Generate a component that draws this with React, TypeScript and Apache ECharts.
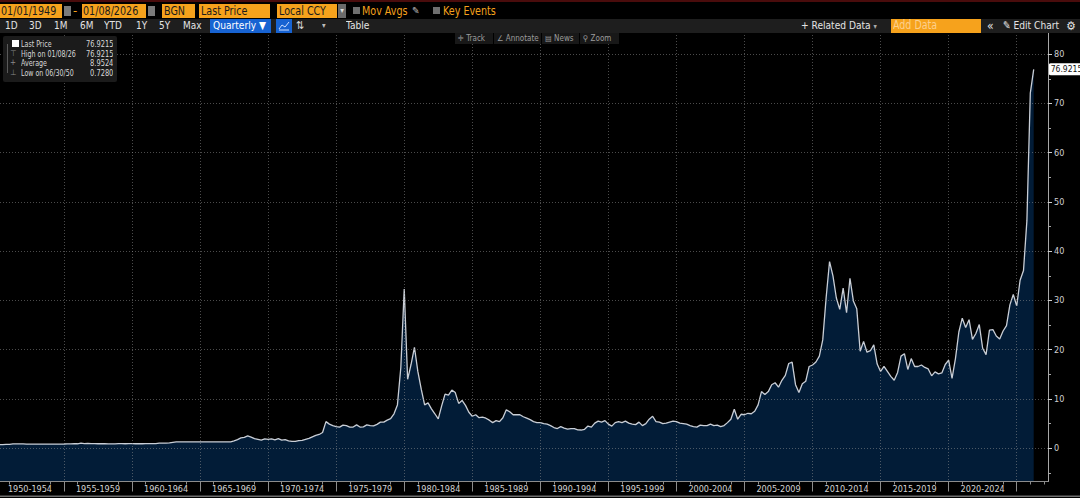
import React, { useEffect, useRef } from "react";
import * as echarts from "echarts";

// Quarterly closes, Q1 1950 onward (one array per decade)
const q1950s = [
  0.73, 0.728, 0.8, 0.8,
  0.88, 0.88, 0.88, 0.88,
  0.85, 0.83, 0.83, 0.84,
  0.85, 0.85, 0.85, 0.85,
  0.85, 0.85, 0.85, 0.86,
  0.88, 0.9, 0.92, 0.91,
  1.05, 0.93, 0.96, 0.92,
  0.92, 0.91, 0.91, 0.91,
  0.9, 0.89, 0.9, 0.92,
  0.92, 0.91, 0.92, 0.92,
];
const q1960s = [
  0.91, 0.91, 0.91, 0.92,
  0.92, 0.92, 0.93, 1.04,
  1.02, 1.03, 1.08, 1.2,
  1.28, 1.28, 1.29, 1.29,
  1.29, 1.29, 1.29, 1.29,
  1.29, 1.29, 1.29, 1.29,
  1.29, 1.29, 1.29, 1.29,
  1.29, 1.5, 1.75, 2.1,
  2.2, 2.5, 2.25, 1.95,
  1.8, 1.65, 1.9, 1.8,
];
const q1970s = [
  1.9, 1.7, 1.95, 1.65,
  1.75, 1.5, 1.4, 1.38,
  1.55, 1.6, 1.8, 2.0,
  2.3, 2.6, 2.8, 3.2,
  5.4, 4.9, 4.6, 4.4,
  4.3, 4.7, 4.6, 4.3,
  4.3, 4.75, 4.3, 4.35,
  4.75, 4.6, 4.55, 4.85,
  5.3, 5.3, 5.7, 6.0,
  7.0, 8.8, 16.4, 32.3,
];
const q1980s = [
  14.0, 17.0, 20.5, 15.6,
  12.0, 8.8, 9.2, 8.0,
  7.0, 5.95, 8.6, 11.0,
  10.8, 11.8, 11.3, 9.1,
  9.7, 8.7, 7.3, 6.5,
  6.8, 6.2, 6.3, 6.1,
  5.7, 5.2, 5.6, 5.4,
  6.2, 7.8, 7.4, 6.8,
  6.8, 6.8, 6.4, 6.1,
  5.8, 5.4, 5.2, 5.2,
];
const q1990s = [
  5.0, 4.9, 4.6, 4.2,
  4.0, 4.4, 4.1, 3.9,
  4.0, 4.0, 3.75, 3.7,
  3.85, 4.5, 4.3, 5.1,
  5.5, 5.3, 5.6, 4.9,
  4.5, 5.2, 5.4, 5.2,
  5.5, 5.1, 4.9, 4.8,
  5.3, 4.6, 5.0, 5.9,
  6.5, 5.4, 5.3, 5.0,
  5.1, 5.3, 5.5, 5.4,
];
const q2000s = [
  5.1, 5.0, 4.9, 4.6,
  4.4, 4.3, 4.7, 4.6,
  4.6, 4.9, 4.6, 4.7,
  4.4, 4.6, 5.2, 5.9,
  7.9, 5.9, 6.9, 6.8,
  7.1, 7.0, 7.5, 8.8,
  11.5, 10.9, 11.5, 12.9,
  13.3, 12.4, 13.8, 14.8,
  17.2, 17.5, 12.9, 11.3,
  13.1, 13.6, 16.6, 16.9,
];
const q2010s = [
  17.5, 18.7, 22.0, 30.6,
  37.9, 35.0, 30.5, 28.2,
  32.5, 27.5, 34.5, 29.9,
  28.3, 19.7, 21.7, 19.5,
  19.8, 21.0, 17.1, 15.6,
  16.6, 15.6, 14.6, 13.8,
  15.4, 18.7, 19.2, 16.0,
  18.2, 16.6, 16.6, 16.9,
  16.4, 16.1, 14.7, 15.5,
  15.1, 15.3, 17.0, 17.9,
];
const q2020s = [
  14.2, 18.2, 23.6, 26.4,
  24.5, 26.1, 22.1, 23.3,
  25.1, 20.3, 19.0, 24.0,
  24.1, 22.8, 22.2, 23.8,
  24.9, 29.1, 31.2, 28.9,
  34.1, 36.1, 46.2, 72.1,
  76.9215,
];

const yTickValues = [0, 10, 20, 30, 40, 50, 60, 70, 80];
const yMinorValues = [-5, 5, 15, 25, 35, 45, 55, 65, 75];
const periodStarts = [1950, 1955, 1960, 1965, 1970, 1975, 1980, 1985, 1990, 1995, 2000, 2005, 2010, 2015, 2020];
const periodBounds = [1955, 1960, 1965, 1970, 1975, 1980, 1985, 1990, 1995, 2000, 2005, 2010, 2015, 2020, 2025];
const legendRows = [
  ["Last Price", "76.9215"],
  ["High on 01/08/26", "76.9215"],
  ["Average", "8.9524"],
  ["Low on 06/30/50", "0.7280"],
];

const FONT = "'Liberation Sans Narrow', 'DejaVu Sans Condensed', 'Arial Narrow', 'Roboto', sans-serif";
const ORANGE = "#f6a21c";

function Abs(props: any) {
  const { l, t, w, h, bg, c, fs, children, style, sx } = props;
  const right = style && style.textAlign === "right";
  return (
    <div
      style={{
        position: "absolute",
        left: l,
        top: t,
        width: w,
        height: h,
        background: bg,
        color: c,
        fontSize: fs,
        lineHeight: h + "px",
        whiteSpace: "nowrap",
        overflow: "hidden",
        boxSizing: "border-box",
        ...style,
      }}
    >
      {sx ? (
        <span
          style={{
            display: "inline-block",
            transform: `scaleX(${sx})`,
            transformOrigin: right ? "right center" : "left center",
          }}
        >
          {children}
        </span>
      ) : (
        children
      )}
    </div>
  );
}

function Toolbar() {
  const dark = "#1b1b1b";
  const k = 0.82;
  return (
    <>
      <Abs l={0} t={0} w={1080} h={1.5} bg="#4a0c0c" />
      <Abs l={0} t={4} w={62} h={14} bg={ORANGE} c={dark} fs={13} sx={k} style={{ paddingLeft: 1 }}>01/01/1949</Abs>
      <Abs l={64} t={6} w={7} h={10} bg="#7a7a7a" />
      <Abs l={73} t={4} w={8} h={14} c={ORANGE} fs={13}>-</Abs>
      <Abs l={82} t={4} w={64} h={14} bg={ORANGE} c={dark} fs={13} sx={k} style={{ paddingLeft: 1 }}>01/08/2026</Abs>
      <Abs l={148} t={6} w={7} h={10} bg="#7a7a7a" />
      <Abs l={162} t={4} w={33} h={14} bg={ORANGE} c={dark} fs={13} sx={k} style={{ paddingLeft: 2 }}>BGN</Abs>
      <Abs l={199} t={4} w={71} h={14} bg={ORANGE} c={dark} fs={13} sx={k} style={{ paddingLeft: 2 }}>Last Price</Abs>
      <Abs l={277} t={4} w={60} h={14} bg={ORANGE} c={dark} fs={13} sx={k} style={{ paddingLeft: 2 }}>Local CCY</Abs>
      <Abs l={338} t={4} w={8} h={14} bg="#6a6a6a" c="#ddd" fs={8} style={{ textAlign: "center" }}>▾</Abs>
      <Abs l={353} t={7} w={7} h={7} bg="#6f6f6f" />
      <Abs l={362} t={4} w={50} h={14} c={ORANGE} fs={13} sx={k}>Mov Avgs</Abs>
      <Abs l={412} t={4} w={10} h={14} c="#bbb" fs={10}>✎</Abs>
      <Abs l={433} t={7} w={7} h={7} bg="#6f6f6f" />
      <Abs l={443} t={4} w={62} h={14} c={ORANGE} fs={13} sx={k}>Key Events</Abs>

      <Abs l={0} t={18.5} w={1080} h={14.5} bg="#1e1e1e" />
      {[
        ["1D", 5], ["3D", 29], ["1M", 54], ["6M", 80], ["YTD", 104], ["1Y", 136], ["5Y", 159], ["Max", 183],
      ].map(([s, x]) => (
        <Abs key={s as string} l={x} t={18.5} w={26} h={14.5} c="#e4e4e4" fs={11} sx={0.9}>{s}</Abs>
      ))}
      <Abs l={210} t={19} w={61} h={13.5} bg="#1763d2" c="#fff" fs={11} sx={0.92} style={{ paddingLeft: 3 }}>Quarterly ▼</Abs>
      <Abs l={276} t={19} w={16} h={13.5} bg="#1763d2" />
      <svg style={{ position: "absolute", left: 278, top: 21 }} width={12} height={10}>
        <polyline points="1,8 4,4 7,6 11,1" fill="none" stroke="#cfe0ff" strokeWidth={1} />
        <line x1={1} y1={9} x2={11} y2={9} stroke="#cfe0ff" strokeWidth={1} />
      </svg>
      <Abs l={296} t={18.5} w={14} h={14.5} c="#d8d8d8" fs={11}>⇅</Abs>
      <Abs l={322} t={18.5} w={10} h={14.5} c="#bbb" fs={8}>▾</Abs>
      <Abs l={346} t={18.5} w={40} h={14.5} c="#e4e4e4" fs={11} sx={0.92}>Table</Abs>
      <Abs l={801} t={18.5} w={86} h={14.5} c="#e4e4e4" fs={11} sx={0.92}>+ Related Data <span style={{ fontSize: 8, color: "#aaa" }}>▾</span></Abs>
      <Abs l={891} t={19} w={90} h={13.5} bg={ORANGE} c="#fdd08c" fs={12} sx={0.88} style={{ paddingLeft: 2 }}>Add Data</Abs>
      <Abs l={987} t={18.5} w={12} h={14.5} c="#e4e4e4" fs={12}>«</Abs>
      <Abs l={1003} t={18.5} w={62} h={14.5} c="#e4e4e4" fs={11} sx={0.92}>✎ Edit Chart</Abs>
      <Abs l={1066} t={18.5} w={14} h={14.5} c="#e4e4e4" fs={12}>⚙</Abs>

      {[
        ["✛ Track", 455, 38], ["∠ Annotate", 494, 47], ["▤ News", 542, 37], ["⚲ Zoom", 580, 39],
      ].map(([s, x, w]) => (
        <Abs key={s as string} l={x} t={33} w={w} h={11} bg="#181818" c="#9c9c9c" fs={8} style={{ paddingLeft: 3 }}>{s}</Abs>
      ))}

      <Abs l={3} t={36} w={114} h={46} bg="#1b1b1b" style={{ borderRadius: 2 }} />
      <Abs l={7} t={44} w={1} h={29} bg="#5a5a5a" />
      <Abs l={12} t={40} w={7} h={7} bg="#ffffff" />
      {legendRows.map(([name, val], i) => (
        <React.Fragment key={name}>
          {i > 0 && (
            <Abs l={10} t={39 + i * 9.6} w={10} h={10} c="#8a8a8a" fs={8}>{i === 1 ? "⊤" : i === 2 ? "+" : "⊥"}</Abs>
          )}
          <Abs l={21} t={39 + i * 9.6} w={62} h={10} c="#d8d8d8" fs={9} sx={0.78}>{name}</Abs>
          <Abs l={80} t={39 + i * 9.6} w={33} h={10} c="#d8d8d8" fs={9} sx={0.82} style={{ textAlign: "right" }}>{val}</Abs>
        </React.Fragment>
      ))}
    </>
  );
}

export default function App() {
  const ref = useRef<HTMLDivElement>(null);

  useEffect(() => {
    if (!ref.current) return;
    const chart = echarts.init(ref.current, undefined, { renderer: "svg" });
    const all = [...q1950s, ...q1960s, ...q1970s, ...q1980s, ...q1990s, ...q2000s, ...q2010s, ...q2020s];
    const data = all.map((v, i) => [1950.25 + 0.25 * i, v]);
    const minorYears: number[] = [];
    for (let y = 1951; y <= 2027; y++) {
      if (y % 5 === 1 || y % 5 === 4 || y > 2025) minorYears.push(y);
    }
    const grid = "rgba(150,150,150,0.5)";
    const axisCol = "#8c8c8c";

    chart.setOption({
      animation: false,
      backgroundColor: "#000",
      textStyle: { fontFamily: FONT },
      grid: { left: 0, right: 32, top: 32, bottom: 16.5, containLabel: false },
      xAxis: [
        {
          type: "value",
          min: 1950.3,
          max: 2027.3,
          position: "bottom",
          z: 3,
          axisLine: { show: true, onZero: false, lineStyle: { color: axisCol, width: 1 } },
          axisTick: { show: true, length: 10, customValues: periodBounds, lineStyle: { color: axisCol } },
          splitLine: { show: true, lineStyle: { color: grid, type: [1, 2], width: 1 } },
          axisLabel: {
            show: true,
            customValues: periodStarts.map((s) => s + 2.5),
            formatter: (v: number) => `${Math.round(v - 2.5)}-${Math.round(v + 1.5)}`,
            color: "#d4d4d4",
            fontSize: 9,
            lineHeight: 11,
            margin: 2,
            fontFamily: FONT,
          },
        },
        {
          type: "value",
          min: 1950.3,
          max: 2027.3,
          position: "bottom",
          z: 3,
          axisLine: { show: false, onZero: false },
          axisTick: { show: true, length: 3, customValues: minorYears, lineStyle: { color: axisCol } },
          splitLine: { show: false },
          axisLabel: { show: false },
        },
      ],
      yAxis: [
        {
          type: "value",
          min: -6.75,
          max: 84.5,
          position: "right",
          z: 3,
          axisLine: { show: true, onZero: false, lineStyle: { color: "#a8a8a8", width: 1 } },
          axisTick: { show: true, length: 4, customValues: yTickValues, lineStyle: { color: "#cfcfcf" } },
          splitLine: { show: true, lineStyle: { color: grid, type: [1, 2], width: 1 } },
          axisLabel: {
            show: true,
            customValues: yTickValues,
            color: "#d0d0d0",
            fontSize: 9,
            margin: 6,
            fontFamily: FONT,
          },
        },
        {
          type: "value",
          min: -6.75,
          max: 84.5,
          position: "right",
          z: 3,
          axisLine: { show: false, onZero: false },
          axisTick: { show: true, length: 3, customValues: yMinorValues, lineStyle: { color: "#a8a8a8" } },
          splitLine: { show: false },
          axisLabel: { show: false },
        },
      ],
      graphic: [
        { type: "rect", shape: { x: 0, y: 495.5, width: 1080, height: 1.5 }, style: { fill: "#6e6e6e" }, silent: true },
      ],
      series: [
        {
          type: "line",
          data,
          xAxisIndex: 0,
          yAxisIndex: 0,
          z: 1,
          symbol: "none",
          showSymbol: false,
          clip: true,
          lineStyle: { color: "#c9ced6", width: 1.3 },
          areaStyle: { color: "#021c37", opacity: 1, origin: "start" },
          endLabel: {
            show: true,
            distance: 15,
            formatter: (p: any) => Number(p.value[1]).toFixed(4),
            backgroundColor: "#ffffff",
            color: "#111",
            fontSize: 8.5,
            padding: [2, 1, 1, 2],
            borderRadius: 2,
            fontFamily: FONT,
          },
        },
      ],
    });
    return () => chart.dispose();
  }, []);

  return (
    <div style={{ position: "fixed", left: 0, top: 0, width: 1080, height: 498, background: "#000", fontFamily: FONT, overflow: "hidden" }}>
      <div ref={ref} style={{ position: "absolute", left: 0, top: 0, width: 1080, height: 498 }} />
      <Toolbar />
    </div>
  );
}
